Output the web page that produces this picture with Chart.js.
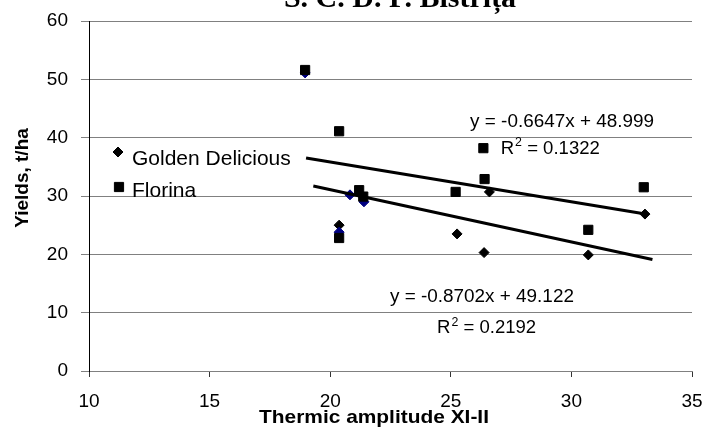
<!DOCTYPE html>
<html>
<head>
<meta charset="utf-8">
<script src="https://cdn.jsdelivr.net/npm/chart.js@4"></script>
<style>
  html, body { margin: 0; padding: 0; background: #fff; }
  #wrap { width: 704px; height: 430px; }
</style>
</head>
<body>
<div id="wrap"><canvas id="chart" width="704" height="430"></canvas></div>
<script>
// ── Data ─────────────────────────────────────────────────────────────────────

const SERIES_LABELS = ['Golden Delicious', 'Florina'];

const GOLDEN_X = [18.96, 20.37, 20.37, 20.82, 21.4, 25.26, 26.38, 26.6, 30.7, 33.05];
const GOLDEN_Y = [51.1, 25.0, 23.8, 30.2, 29.0, 23.5, 20.3, 30.7, 19.9, 26.9];

const FLORINA_X = [18.96, 20.37, 20.37, 21.2, 21.37, 25.2, 26.35, 26.4, 30.7, 33.0];
const FLORINA_Y = [51.6, 41.1, 22.8, 31.0, 29.9, 30.7, 38.2, 32.9, 24.2, 31.5];

// trendline end points as drawn
const TREND_GOLDEN_X = [19.3, 33.36];
const TREND_GOLDEN_Y = [31.7, 19.1];
const TREND_FLORINA_X = [19.0, 33.07];
const TREND_FLORINA_Y = [36.5, 26.9];

const EQUATIONS = ['y = -0.8702x + 49.122', 'y = -0.6647x + 48.999'];
const R_SQUARED = ['0.2192', '0.1322'];

const X_RANGE = [10, 35, 5];
const Y_RANGE = [0, 60, 10];

const TITLE = 'S. C. D. P. Bistrița';
const X_TITLE = 'Thermic amplitude XI-II';
const Y_TITLE = 'Yields, t/ha';

// ── Styling ──────────────────────────────────────────────────────────────────

const SANS = "'Liberation Sans', Arial, sans-serif";
// a few Golden markers come out navy in the original
const GOLDEN_COLORS = ['#000080', '#000', '#000080', '#000080', '#000080', '#000', '#000', '#000', '#000', '#000'];

const toPoints = (xs, ys) => xs.map((x, i) => ({ x, y: ys[i] }));

// text drawn slightly stretched, like the original export
function wideText(ctx, text, x, y, sx) {
  ctx.save();
  ctx.translate(x, y);
  ctx.scale(sx, 1);
  ctx.fillText(text, 0, 0);
  ctx.restore();
  return ctx.measureText(text).width * sx;
}

function drawR2(ctx, x, y, value, size, sx) {
  ctx.font = `${size}px ${SANS}`;
  let w = wideText(ctx, 'R', x, y, sx);
  ctx.font = `${Math.round(size * 0.65)}px ${SANS}`;
  w += wideText(ctx, '2', x + w + 1, y - size * 0.42, sx) + 1;
  ctx.font = `${size}px ${SANS}`;
  wideText(ctx, ' = ' + value, x + w, y, sx);
}

const decor = {
  id: 'decor',
  afterDraw(chart) {
    const { ctx, chartArea: a, scales: { x, y } } = chart;
    ctx.save();
    ctx.fillStyle = '#000';
    ctx.textBaseline = 'alphabetic';

    // chart title, cut off at the top edge
    ctx.font = `bold 30px 'Liberation Serif', 'Times New Roman', serif`;
    ctx.textAlign = 'center';
    ctx.fillText(TITLE, 400, 7);

    // axis titles
    ctx.font = `bold 19px ${SANS}`;
    wideText(ctx, X_TITLE, 374, 423, 1.1);

    ctx.save();
    ctx.translate(28, 178);
    ctx.rotate(-Math.PI / 2);
    ctx.fillText(Y_TITLE, 0, 0);
    ctx.restore();

    // legend inside the plot
    ctx.textAlign = 'left';
    ctx.font = `21px ${SANS}`;
    Chart.helpers.drawPoint(ctx, { pointStyle: 'rectRot', radius: 5, rotation: 0, borderWidth: 1 }, a.left + 29, 152);
    ctx.fillText(SERIES_LABELS[0], a.left + 43, 165);
    Chart.helpers.drawPoint(ctx, { pointStyle: 'rect', radius: 6.5, rotation: 0, borderWidth: 1 }, a.left + 30, 187);
    ctx.fillText(SERIES_LABELS[1], a.left + 43, 197);

    // trendline equations
    ctx.font = `18px ${SANS}`;
    wideText(ctx, EQUATIONS[1], x.getPixelForValue(25.8), y.getPixelForValue(41.83), 1.05);
    drawR2(ctx, x.getPixelForValue(27.07), y.getPixelForValue(37.2), R_SQUARED[1], 18, 1.03);
    ctx.font = `18px ${SANS}`;
    wideText(ctx, EQUATIONS[0], x.getPixelForValue(22.48), y.getPixelForValue(11.83), 1.05);
    drawR2(ctx, x.getPixelForValue(24.43), y.getPixelForValue(6.46), R_SQUARED[0], 18, 1.03);

    ctx.restore();
  }
};

const ctx = document.getElementById('chart').getContext('2d');

new Chart(ctx, {
  type: 'scatter',
  data: {
    datasets: [
      {
        label: SERIES_LABELS[1],
        data: toPoints(FLORINA_X, FLORINA_Y),
        pointStyle: 'rect',
        pointRadius: 6.5,
        pointBackgroundColor: '#000',
        pointBorderColor: '#000',
        pointBorderWidth: 1,
        order: 2,
      },
      {
        label: SERIES_LABELS[0],
        data: toPoints(GOLDEN_X, GOLDEN_Y),
        pointStyle: 'rectRot',
        pointRadius: 5,
        pointBackgroundColor: GOLDEN_COLORS,
        pointBorderColor: GOLDEN_COLORS,
        pointBorderWidth: 1,
        order: 3,
      },
      {
        label: 'trend Florina',
        data: toPoints(TREND_FLORINA_X, TREND_FLORINA_Y),
        showLine: true,
        borderColor: '#000',
        borderWidth: 3,
        pointRadius: 0,
        order: 1,
      },
      {
        label: 'trend Golden',
        data: toPoints(TREND_GOLDEN_X, TREND_GOLDEN_Y),
        showLine: true,
        borderColor: '#000',
        borderWidth: 3,
        pointRadius: 0,
        order: 1,
      },
    ],
  },
  options: {
    responsive: false,
    animation: false,
    events: [],
    layout: { padding: { top: 21, right: 12, left: 0, bottom: 0 } },
    plugins: {
      legend: { display: false },
      tooltip: { enabled: false },
    },
    scales: {
      x: {
        type: 'linear',
        min: X_RANGE[0], max: X_RANGE[1],
        ticks: { stepSize: X_RANGE[2], color: '#000', padding: 13, maxRotation: 0, font: { size: 19, family: SANS } },
        grid: { drawOnChartArea: false, tickLength: 6, color: '#333' },
        border: { color: '#808080', width: 1 },
        afterFit: s => { s.height = 59; s.paddingLeft = 0; s.paddingRight = 0; },
      },
      y: {
        min: Y_RANGE[0], max: Y_RANGE[1],
        ticks: { stepSize: Y_RANGE[2], color: '#000', padding: 13, font: { size: 19, family: SANS } },
        grid: { color: '#808080', tickLength: 8 },
        border: { color: '#000', width: 1 },
        afterFit: s => { s.width = 89; s.paddingTop = 0; s.paddingBottom = 0; },
      },
    },
  },
  plugins: [decor],
});
</script>
</body>
</html>
